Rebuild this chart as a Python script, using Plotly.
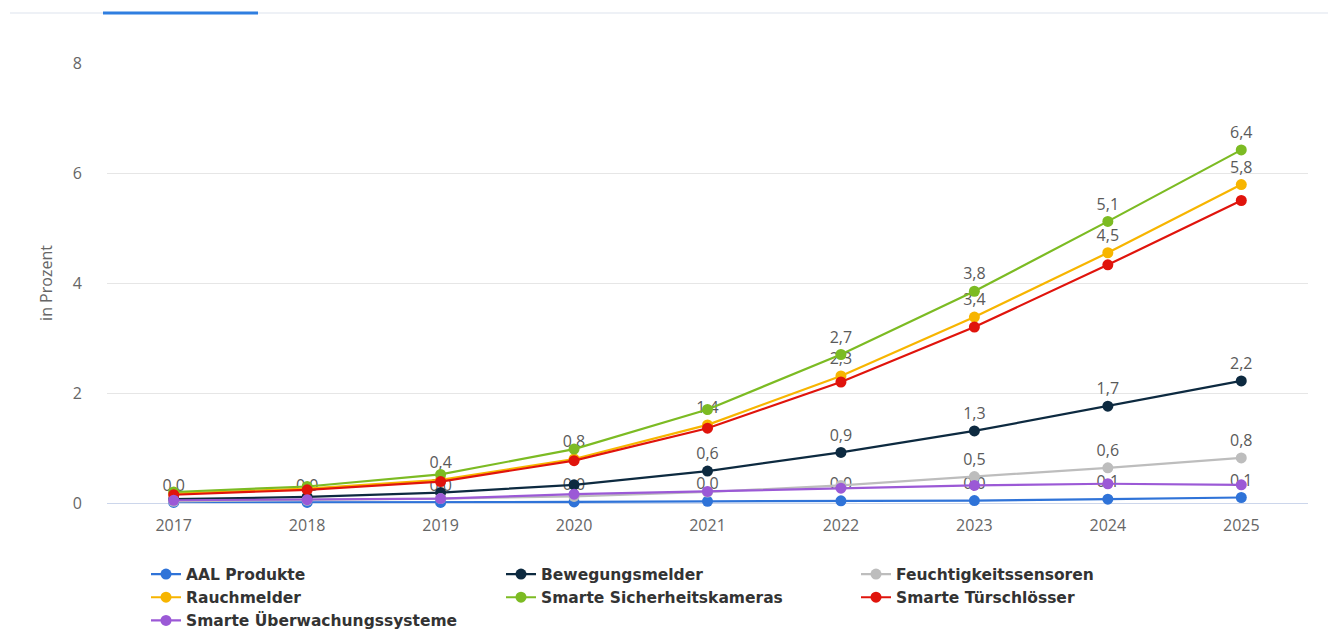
import plotly.graph_objects as go

years = ["2017", "2018", "2019", "2020", "2021", "2022", "2023", "2024", "2025"]

aal = [0.01, 0.01, 0.01, 0.02, 0.03, 0.04, 0.045, 0.07, 0.1]
bewegung = [0.07, 0.11, 0.19, 0.33, 0.58, 0.92, 1.31, 1.76, 2.22]
feucht = [0.03, 0.05, 0.08, 0.12, 0.2, 0.32, 0.48, 0.64, 0.82]
rauch = [0.17, 0.26, 0.42, 0.8, 1.42, 2.31, 3.38, 4.55, 5.79]
kameras = [0.2, 0.3, 0.52, 0.98, 1.7, 2.7, 3.85, 5.12, 6.42]
tuer = [0.15, 0.24, 0.39, 0.77, 1.36, 2.2, 3.2, 4.33, 5.5]
ueberwachung = [0.05, 0.06, 0.08, 0.16, 0.21, 0.27, 0.32, 0.35, 0.33]

# visible data labels (others hidden due to overlap in the original)
aal_lbl = ["0,0", "0,0", "0,0", "0,0", "0,0", "0,0", "0,0", "0,1", "0,1"]
bewegung_lbl = ["", "", "", "", "0,6", "0,9", "1,3", "1,7", "2,2"]
feucht_lbl = ["", "", "", "", "", "", "0,5", "0,6", "0,8"]
rauch_lbl = ["", "", "0,4", "0,8", "1,4", "2,3", "3,4", "4,5", "5,8"]
kameras_lbl = ["", "", "", "", "", "2,7", "3,8", "5,1", "6,4"]
tuer_lbl = [""] * 9
ueberwachung_lbl = [""] * 9

series = [
    ("AAL Produkte", aal, aal_lbl, "#2f73d8"),
    ("Bewegungsmelder", bewegung, bewegung_lbl, "#0d2a40"),
    ("Feuchtigkeitssensoren", feucht, feucht_lbl, "#bdbdbd"),
    ("Rauchmelder", rauch, rauch_lbl, "#f7b500"),
    ("Smarte Sicherheitskameras", kameras, kameras_lbl, "#7cbb23"),
    ("Smarte Türschlösser", tuer, tuer_lbl, "#e0140c"),
    ("Smarte Überwachungssysteme", ueberwachung, ueberwachung_lbl, "#9b59d6"),
]

FONT = "Open Sans, sans-serif"

fig = go.Figure()
for name, vals, lbl, col in series:
    fig.add_trace(go.Scatter(
        x=years, y=vals, name=name, mode="lines+markers+text",
        text=lbl, textposition="top center",
        textfont=dict(family=FONT, size=16, color="#5a5a5a"),
        line=dict(color=col, width=2.2),
        marker=dict(color=col, size=11),
        cliponaxis=False,
    ))

W, H = 1328, 632
L, R, T, B = 107, 20, 63, 129
pw = W - L - R
ph = H - T - B

def px_x(px):
    return (px - L) / pw

def px_y(py):
    return (H - B - py) / ph

fig.update_layout(
    width=W, height=H,
    margin=dict(l=L, r=R, t=T, b=B, autoexpand=False),
    paper_bgcolor="white", plot_bgcolor="white",
    font=dict(family=FONT, color="#666666", size=16),
    showlegend=True,
    legend=dict(
        orientation="h", x=px_x(146), y=px_y(557.5), xanchor="left", yanchor="top",
        entrywidth=310, entrywidthmode="pixels",
        font=dict(family="DejaVu Sans, sans-serif", size=15.5, color="#333333", weight="bold"),
        tracegroupgap=0, itemclick=False,
    ),
    xaxis=dict(
        type="category", range=[-0.5, 8.5], showgrid=False, zeroline=False,
        showline=False, ticks="", tickfont=dict(family=FONT, size=16, color="#666666"),
        ticklabelstandoff=11,
    ),
    yaxis=dict(
        range=[0, 8], dtick=2, showgrid=True, gridcolor="#e6e6e6", gridwidth=1,
        zeroline=True, zerolinecolor="#ccd6eb", zerolinewidth=1,
        tickfont=dict(family=FONT, size=16, color="#666666"), ticklabelstandoff=24,
        title=dict(text="in Prozent", font=dict(family=FONT, size=16, color="#666666"), standoff=16),
    ),
    shapes=[
        dict(type="line", xref="paper", yref="paper",
             x0=px_x(10), x1=px_x(1328), y0=px_y(13), y1=px_y(13),
             line=dict(color="#eef1f6", width=2)),
        dict(type="line", xref="paper", yref="paper",
             x0=px_x(103), x1=px_x(258), y0=px_y(13), y1=px_y(13),
             line=dict(color="#2f7ee0", width=3)),
    ],
)

fig.write_html("out.html")
